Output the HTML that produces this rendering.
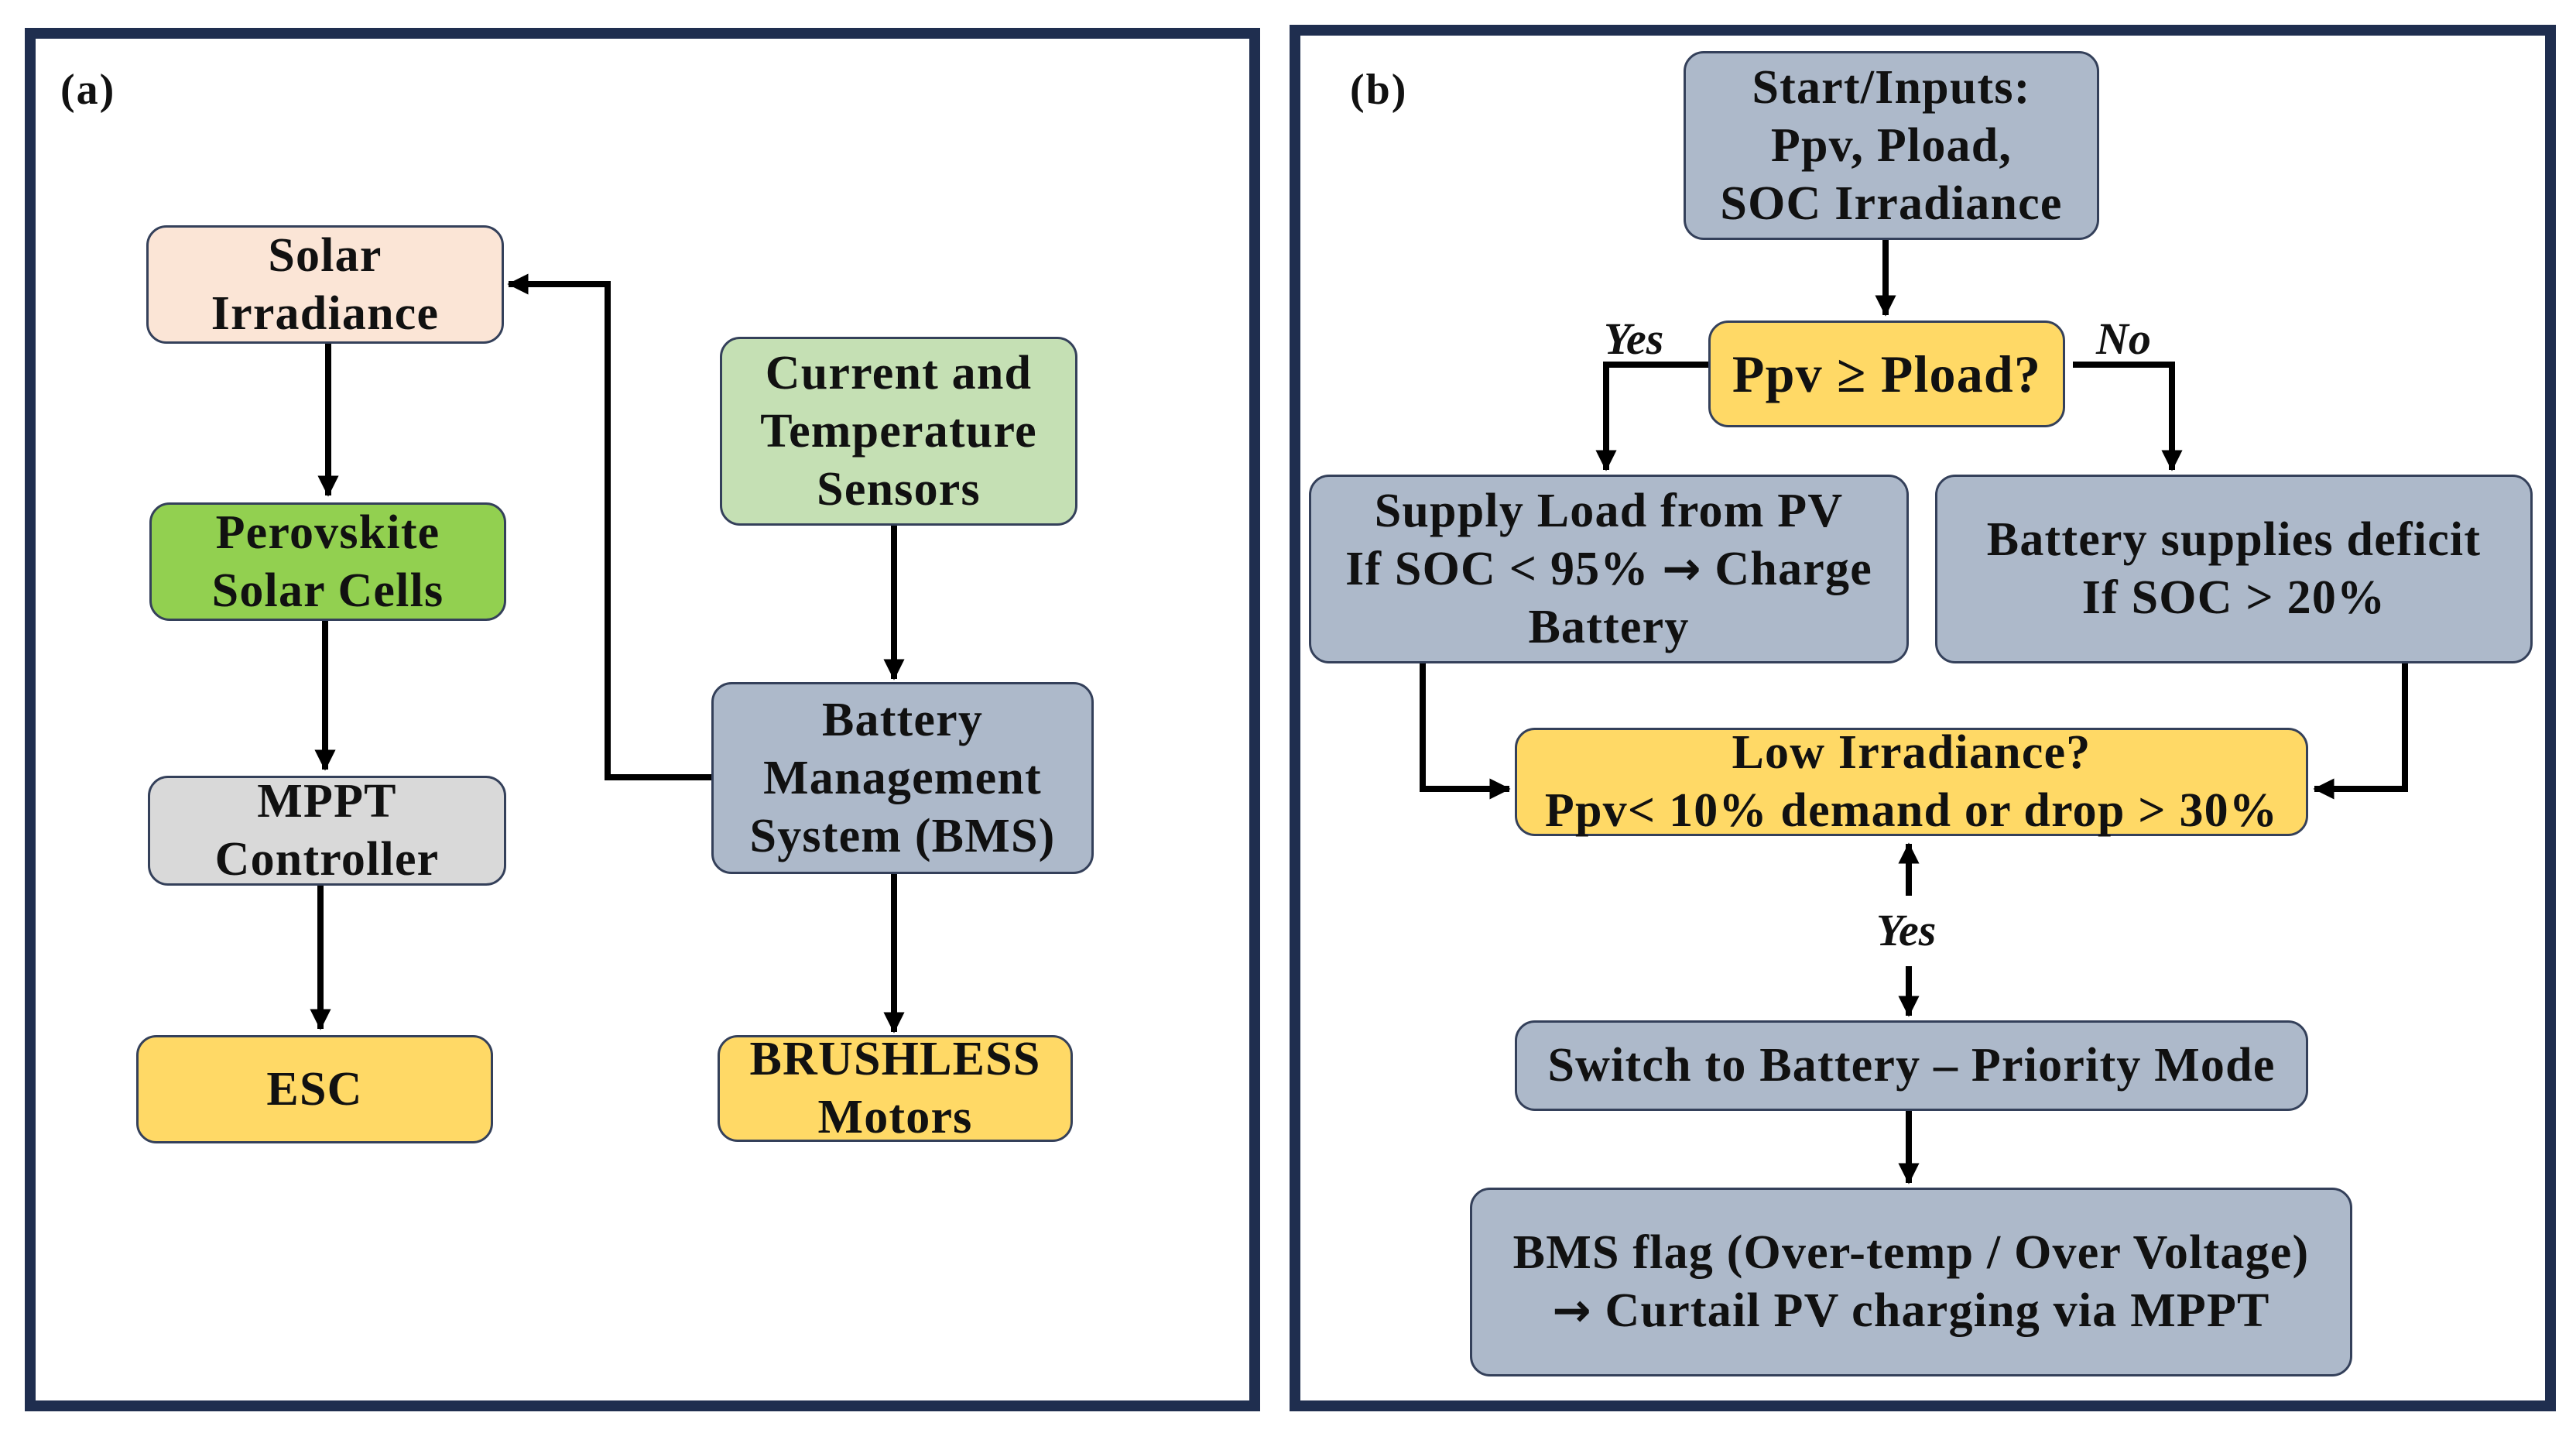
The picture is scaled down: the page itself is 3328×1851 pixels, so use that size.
<!DOCTYPE html>
<html><head><meta charset="utf-8"><style>
html,body{margin:0;padding:0;background:#fff;}
#c{position:relative;width:3328px;height:1851px;overflow:hidden;background:#fff;font-family:"Liberation Serif",serif;font-weight:bold;color:#111;}
.panel{position:absolute;border:14px solid #1f2e4f;box-sizing:border-box;}
.b{position:absolute;box-sizing:border-box;border:3px solid #34405a;border-radius:26px;display:flex;align-items:center;justify-content:center;text-align:center;font-size:62px;line-height:75px;letter-spacing:1.2px;white-space:nowrap;}
.lbl{position:absolute;font-size:56px;letter-spacing:2px;}
.it{position:absolute;font-style:italic;font-size:58px;}
.ar{font-family:"DejaVu Sans",sans-serif;font-size:60px;}
svg{position:absolute;left:0;top:0;}
</style></head><body><div id="c">
<div class="panel" style="left:32px;top:36px;width:1596px;height:1787px;"></div>
<div class="panel" style="left:1666px;top:32px;width:1636px;height:1791px;"></div>
<div class="lbl" style="left:78px;top:84px;">(a)</div>
<div class="lbl" style="left:1744px;top:84px;">(b)</div>

<div class="b" style="left:189px;top:291px;width:462px;height:153px;background:#fbe5d6;"><div>Solar<br>Irradiance</div></div>
<div class="b" style="left:193px;top:649px;width:461px;height:153px;background:#92d050;"><div>Perovskite<br>Solar Cells</div></div>
<div class="b" style="left:191px;top:1002px;width:463px;height:142px;background:#d9d9d9;"><div>MPPT<br>Controller</div></div>
<div class="b" style="left:176px;top:1337px;width:461px;height:140px;background:#ffd966;"><div>ESC</div></div>
<div class="b" style="left:930px;top:435px;width:462px;height:244px;background:#c5e0b4;"><div>Current and<br>Temperature<br>Sensors</div></div>
<div class="b" style="left:919px;top:881px;width:494px;height:248px;background:#adb9ca;"><div>Battery<br>Management<br>System (BMS)</div></div>
<div class="b" style="left:927px;top:1337px;width:459px;height:138px;background:#ffd966;"><div>BRUSHLESS<br>Motors</div></div>

<div class="b" style="left:2175px;top:66px;width:537px;height:244px;background:#adb9ca;"><div>Start/Inputs:<br>Ppv, Pload,<br>SOC Irradiance</div></div>
<div class="b" style="left:2207px;top:414px;width:461px;height:138px;background:#ffd966;font-size:68px;"><div>Ppv ≥ Pload?</div></div>
<div class="it" style="left:2072px;top:404px;">Yes</div>
<div class="it" style="left:2708px;top:404px;">No</div>
<div class="b" style="left:1691px;top:613px;width:775px;height:244px;background:#adb9ca;"><div>Supply Load from PV<br>If SOC &lt; 95% <span class="ar">→</span> Charge<br>Battery</div></div>
<div class="b" style="left:2500px;top:613px;width:772px;height:244px;background:#adb9ca;"><div>Battery supplies deficit<br>If SOC &gt; 20%</div></div>
<div class="b" style="left:1957px;top:940px;width:1025px;height:140px;background:#ffd966;"><div>Low Irradiance?<br>Ppv&lt; 10% demand or drop &gt; 30%</div></div>
<div class="it" style="left:2424px;top:1168px;">Yes</div>
<div class="b" style="left:1957px;top:1318px;width:1025px;height:117px;background:#adb9ca;"><div>Switch to Battery – Priority Mode</div></div>
<div class="b" style="left:1899px;top:1534px;width:1140px;height:244px;background:#adb9ca;"><div>BMS flag (Over-temp / Over Voltage)<br><span class="ar">→</span> Curtail PV charging via MPPT</div></div>

<svg width="3328" height="1851" viewBox="0 0 3328 1851">
<defs><marker id="a" markerWidth="4" markerHeight="4" refX="3.2" refY="2" orient="auto" markerUnits="strokeWidth"><path d="M0,0.3 L3.4,2 L0,3.7 z" fill="#000"/></marker></defs>
<g stroke="#000" stroke-width="8" fill="none" marker-end="url(#a)">
<path d="M424,444 V640"/>
<path d="M420,802 V994"/>
<path d="M414,1144 V1329"/>
<path d="M1155,679 V877"/>
<path d="M1155,1129 V1333"/>
<path d="M919,1004 H785 V367 H657"/>
<path d="M2436,310 V407"/>
<path d="M2207,471 H2075 V607"/>
<path d="M2678,471 H2806 V607"/>
<path d="M1838,857 V1019 H1950"/>
<path d="M3107,857 V1019 H2990"/>
<path d="M2466,1157 V1090"/>
<path d="M2466,1248 V1312"/>
<path d="M2466,1435 V1528"/>
</g></svg>
</div></body></html>
